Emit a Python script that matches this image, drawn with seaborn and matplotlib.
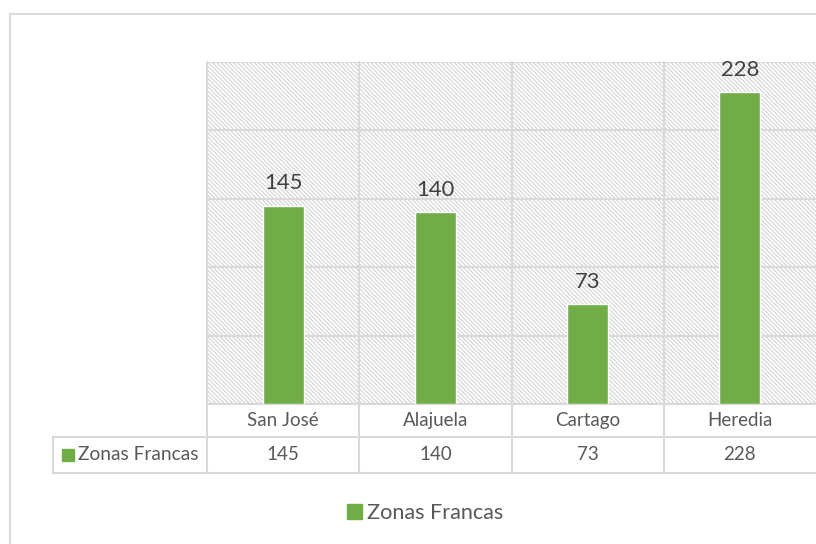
import numpy as np
import pandas as pd
import matplotlib.pyplot as plt
import seaborn as sns
from matplotlib.patches import Rectangle, Patch
import matplotlib.transforms as mtransforms

# data
provincias = ["San José", "Alajuela", "Cartago", "Heredia"]
zonas_francas = [145, 140, 73, 228]
serie = "Zonas Francas"

df = pd.DataFrame({"provincia": provincias, "valor": zonas_francas})

verde = "#70ad47"
gris_txt = "#595959"
gris_lin = "#d9d9d9"

sns.set_style("white")
plt.rcParams["font.family"] = ["Lato", "DejaVu Sans"]
plt.rcParams["hatch.color"] = "#d2d2d2"
plt.rcParams["hatch.linewidth"] = 0.8

W, H = 816, 544
fig = plt.figure(figsize=(W / 100, H / 100), dpi=100)

# outer chart frame (runs off the right and bottom edge)
fig.patches.append(Rectangle((10 / W, -0.1), 1.2, 1 - 14 / H + 0.1, transform=fig.transFigure,
                             fill=False, edgecolor=gris_lin, lw=1.5, zorder=0))

ax_l, ax_r, ax_t, ax_b = 207, 816, 62, 404
ax = fig.add_axes([ax_l / W, 1 - ax_b / H, (ax_r - ax_l) / W, (ax_b - ax_t) / H])

# hatched plot area
ax.add_patch(Rectangle((0, 0), 1, 1, transform=ax.transAxes, facecolor="white",
                       hatch="\\" * 8, edgecolor="#d2d2d2", lw=0, zorder=0))

sns.barplot(data=df, x="provincia", y="valor", color=verde, width=0.27,
            saturation=1, ax=ax, zorder=3)

ax.set_ylim(0, 250)
ax.set_xlim(-0.5, len(provincias) - 0.5)
ax.set_yticks(np.arange(0, 251, 50))
ax.yaxis.grid(True, color=gris_lin, lw=1.5)
ax.set_axisbelow(False)
for sp in ax.spines.values():
    sp.set_visible(False)
ax.set_xlabel("")
ax.set_ylabel("")
ax.set_xticks([])
ax.set_yticklabels([])
ax.tick_params(left=False, bottom=False)
for gl in ax.get_ygridlines():
    gl.set_zorder(1)

# data labels
for i, v in enumerate(zonas_francas):
    ax.annotate(str(v), (i, v), xytext=(0, 9), textcoords="offset points",
                ha="center", va="bottom", fontsize=15.8, color="#404040")

# data table below the plot
ax_h = ax_b - ax_t
ax_w = ax_r - ax_l
r1 = -33 / ax_h
r2 = -69 / ax_h
lab_left = -(ax_l - 53) / ax_w
tr = mtransforms.blended_transform_factory(ax.transData, ax.transAxes)

for k in range(len(provincias)):
    xb = k - 0.5
    ax.plot([xb, xb], [1, r2], transform=tr, color=gris_lin, lw=1.5, clip_on=False, zorder=1)
for yy in (r1, r2):
    ax.plot([lab_left, 1.2], [yy, yy], transform=ax.transAxes, color=gris_lin, lw=1.5,
            clip_on=False, zorder=1)
ax.plot([lab_left, lab_left], [r1, r2], transform=ax.transAxes, color=gris_lin, lw=1.5,
        clip_on=False)
ax.plot([0, 1.2], [0, 0], transform=ax.transAxes, color=gris_lin, lw=1.5, clip_on=False, zorder=2)

for i, (p, v) in enumerate(zip(provincias, zonas_francas)):
    ax.text(i, r1 / 2, p, transform=tr, ha="center", va="center", fontsize=13.5, color=gris_txt)
    ax.text(i, (r1 + r2) / 2, str(v), transform=tr, ha="center", va="center",
            fontsize=13.5, color=gris_txt)

# row label with legend key
sq = 12 / ax_h
ax.add_patch(Rectangle((lab_left + 9 / ax_w, (r1 + r2) / 2 - sq / 2), 12 / ax_w, sq,
                       transform=ax.transAxes, color=verde, clip_on=False))
ax.text(lab_left + 25 / ax_w, (r1 + r2) / 2, serie, transform=ax.transAxes,
        ha="left", va="center", fontsize=13.8, color=gris_txt)

# legend at the bottom
fig.legend(handles=[Patch(color=verde, label=serie)], loc="center",
           bbox_to_anchor=(425 / W, 1 - 513 / H), frameon=False, fontsize=15.6,
           handlelength=0.7, handleheight=0.7, handletextpad=0.25, labelcolor=gris_txt)

fig.savefig("out.png", dpi=100)
